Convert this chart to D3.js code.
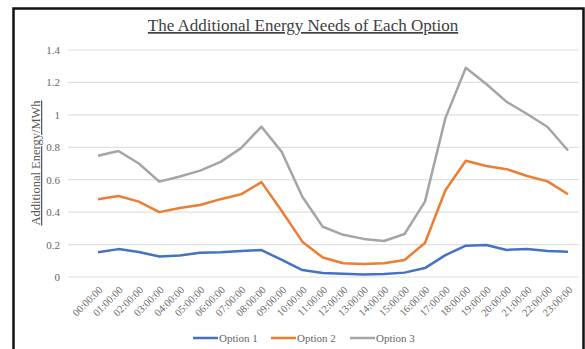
<!DOCTYPE html>
<html lang="en">
<head>
    <meta charset="UTF-8">
    <title>The Additional Energy Needs of Each Option</title>
    <script src="https://d3js.org/d3.v7.min.js"></script>
    <style>
        body { margin: 0; background: #fff; }
        svg { display: block; font-family: "Liberation Serif", "Times New Roman", serif; }
    </style>
</head>
<body>
    <svg width="585" height="349"></svg>
    <script>
        // Chart data
        const hours = ["00:00:00","01:00:00","02:00:00","03:00:00","04:00:00","05:00:00",
            "06:00:00","07:00:00","08:00:00","09:00:00","10:00:00","11:00:00",
            "12:00:00","13:00:00","14:00:00","15:00:00","16:00:00","17:00:00",
            "18:00:00","19:00:00","20:00:00","21:00:00","22:00:00","23:00:00"];
        const option1 = [0.152, 0.172, 0.154, 0.126, 0.132, 0.150, 0.153, 0.160, 0.166, 0.105, 0.043, 0.025,
            0.020, 0.015, 0.018, 0.027, 0.055, 0.135, 0.193, 0.197, 0.167, 0.172, 0.160, 0.155];
        const option2 = [0.48, 0.50, 0.465, 0.40, 0.425, 0.444, 0.48, 0.51, 0.585, 0.405, 0.218, 0.12,
            0.085, 0.08, 0.085, 0.105, 0.21, 0.535, 0.717, 0.685, 0.665, 0.623, 0.59, 0.51];
        const option3 = [0.748, 0.777, 0.70, 0.588, 0.62, 0.656, 0.71, 0.795, 0.927, 0.77, 0.495, 0.31,
            0.26, 0.235, 0.222, 0.265, 0.465, 0.98, 1.29, 1.19, 1.08, 1.005, 0.925, 0.78];
        const yTicks = [0, 0.2, 0.4, 0.6, 0.8, 1, 1.2, 1.4];
        const seriesNames = ["Option 1", "Option 2", "Option 3"];

        const svg = d3.select("svg");
        const colors = ["#4472c4", "#ed7d31", "#a5a5a5"];
        const series = [option1, option2, option3];
        const serif = "Liberation Serif, Times New Roman, serif";

        // frame around the picture
        svg.append("path")
            .attr("d", "M13.5,349 V8.5 H583.5 V349")
            .attr("fill", "none")
            .attr("stroke", "#111")
            .attr("stroke-width", 2.5);

        const x = d3.scalePoint().domain(hours).range([98, 568]);
        const y = d3.scaleLinear().domain([0, 1.4]).range([277, 50]);

        // gridlines
        svg.append("g")
            .selectAll("line")
            .data(yTicks)
            .join("line")
            .attr("x1", 68)
            .attr("x2", 579)
            .attr("y1", d => y(d))
            .attr("y2", d => y(d))
            .attr("stroke", "#e0e0e0")
            .attr("stroke-width", 1.2);

        // y axis labels
        const yAxis = svg.append("g")
            .attr("transform", "translate(68,0)")
            .call(d3.axisLeft(y).tickValues(yTicks).tickSize(0).tickPadding(8).tickFormat(d3.format("~g")))
            .attr("font-family", serif)
            .attr("font-size", 11);
        yAxis.select(".domain").remove();
        yAxis.selectAll("text").attr("fill", "#666");

        // x axis labels
        const xAxis = svg.append("g")
            .attr("transform", "translate(0,277)")
            .call(d3.axisBottom(x).tickSize(0).tickPadding(0))
            .attr("font-family", serif)
            .attr("font-size", 10.5);
        xAxis.select(".domain").remove();
        xAxis.selectAll("text")
            .attr("fill", "#666")
            .attr("text-anchor", "end")
            .attr("dy", "0.35em")
            .attr("transform", "translate(2,11) rotate(-45)");

        // lines
        const line = d3.line()
            .x((d, i) => x(hours[i]))
            .y(d => y(d));

        series.forEach(function(s, k) {
            svg.append("path")
                .datum(s)
                .attr("fill", "none")
                .attr("stroke", colors[k])
                .attr("stroke-width", 2.5)
                .attr("stroke-linejoin", "round")
                .attr("d", line);
        });

        // title
        svg.append("text")
            .attr("x", 303)
            .attr("y", 31)
            .attr("text-anchor", "middle")
            .attr("fill", "#404040")
            .style("font-size", "17px")
            .style("text-decoration", "underline")
            .text("The Additional Energy Needs of Each Option");

        // y axis title
        svg.append("text")
            .attr("transform", "translate(40,163) rotate(-90)")
            .attr("text-anchor", "middle")
            .attr("fill", "#595959")
            .style("font-size", "12.5px")
            .style("text-decoration", "underline")
            .text("Additional Energy/MWh");

        // legend
        const legendX = [193, 271, 350];
        const legend = svg.append("g")
            .selectAll("g")
            .data(seriesNames)
            .join("g")
            .attr("transform", (d, i) => "translate(" + legendX[i] + ",338)");

        legend.append("line")
            .attr("x1", 0)
            .attr("x2", 25)
            .attr("stroke", (d, i) => colors[i])
            .attr("stroke-width", 2.5);

        legend.append("text")
            .attr("x", 26)
            .attr("dy", "0.35em")
            .attr("fill", "#666")
            .style("font-size", "11px")
            .text(d => d);
    </script>
</body>
</html>
